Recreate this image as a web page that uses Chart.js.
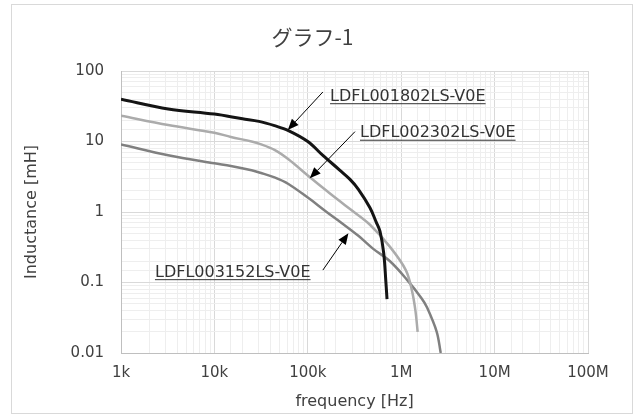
<!DOCTYPE html>
<html lang="ja">
<head>
  <meta charset="UTF-8">
  <title>グラフ-1</title>
  <script src="https://cdn.jsdelivr.net/npm/chart.js@4.4.1/dist/chart.umd.min.js"></script>
  <style>
    html, body { margin: 0; padding: 0; background: #fff; }
    .wrap { position: relative; width: 643px; height: 418px; }
    .frame {
      position: absolute; left: 11px; top: 4px;
      width: 620px; height: 408px;
      border: 1px solid #d9d9d9;
      pointer-events: none;
    }
    canvas { position: absolute; left: 0; top: 0; }
  </style>
</head>
<body>
  <div class="wrap">
    <canvas id="chart" width="643" height="418"></canvas>
    <div class="frame"></div>
  </div>

  <script>
    // chart text
    const chartTitle = 'グラフ-1';
    const xTitle = 'frequency [Hz]';
    const yTitle = 'Inductance [mH]';

    // axis ticks
    const xTickValues = [1e3, 1e4, 1e5, 1e6, 1e7, 1e8];
    const xTickLabels = ['1k', '10k', '100k', '1M', '10M', '100M'];
    const yTickValues = [0.01, 0.1, 1, 10, 100];
    const yTickLabels = ['0.01', '0.1', '1', '10', '100'];

    // series: frequency [Hz] / inductance [mH]
    const names = ['LDFL001802LS-V0E', 'LDFL002302LS-V0E', 'LDFL003152LS-V0E'];

    const freq1802 = [1e3, 3.2e3, 1e4, 2e4, 3e4, 4.4e4, 6.2e4, 1e5, 1.46e5, 2.21e5, 2.83e5, 3.48e5, 4.63e5, 5.4e5, 5.93e5, 6.5e5, 6.86e5, 7.05e5];
    const ind1802  = [39.7, 28.9, 24.5, 21, 19.3, 16.8, 14.3, 10, 6.3, 3.9, 2.9, 2.1, 1.15, 0.72, 0.53, 0.26, 0.1, 0.058];

    const freq2302 = [1e3, 3.2e3, 1e4, 1.5e4, 2.5e4, 3.1e4, 4.4e4, 6.2e4, 1e5, 1.59e5, 2.21e5, 2.83e5, 4.63e5, 7.59e5, 1.12e6, 1.3e6, 1.42e6, 1.5e6];
    const ind2302  = [23.2, 17.1, 13.3, 11.6, 10.0, 9.2, 7.6, 5.6, 3.3, 2.0, 1.42, 1.1, 0.66, 0.32, 0.15, 0.078, 0.04, 0.02];

    const freq3152 = [1e3, 3.2e3, 1e4, 1.5e4, 2.5e4, 3.1e4, 4.4e4, 6.2e4, 1e5, 1.59e5, 2.3e5, 3.48e5, 5.02e5, 7.59e5, 1.15e6, 1.65e6, 1.88e6, 2.4e6, 2.65e6];
    const ind3152  = [9.1, 6.4, 4.9, 4.5, 3.9, 3.6, 3.1, 2.5, 1.6, 1.0, 0.7, 0.46, 0.3, 0.2, 0.11, 0.06, 0.045, 0.02, 0.01];

    // callout labels and arrows (in data units)
    const labelFreq = [1.73e5, 3.62e5, 2.31e3];
    const labelInd  = [37.9, 11.5, 0.121];
    const arrowFromFreq = [1.45e5, 3.2e5, 1.45e5];
    const arrowFromInd  = [50.4, 13.8, 0.150];
    const arrowToFreq = [6.1e4, 1.05e5, 2.72e5];
    const arrowToInd  = [14.6, 3.0, 0.499];

    const textColor = '#404040';
    const fontFamily = '"DejaVu Sans", Verdana, sans-serif';

    function isMajor(v) {
      const l = Math.log10(v);
      return Math.abs(l - Math.round(l)) < 1e-6;
    }

    function tickLabel(v, values, labels) {
      for (let i = 0; i < values.length; i++) {
        if (Math.abs(v / values[i] - 1) < 1e-6) return labels[i];
      }
      return '';
    }

    function gridColor(ctx) {
      if (!ctx.tick) return '#d9d9d9';
      return isMajor(ctx.tick.value) ? '#d9d9d9' : '#eeeeee';
    }

    function points(xs, ys) {
      return xs.map((f, i) => ({ x: f, y: ys[i] }));
    }

    const overlay = {
      id: 'overlay',
      afterDatasetsDraw(chart) {
        const ctx = chart.ctx;
        const x = chart.scales.x;
        const y = chart.scales.y;
        ctx.save();

        // title
        ctx.fillStyle = textColor;
        ctx.font = '21px "Noto Sans CJK JP", sans-serif';
        ctx.textAlign = 'center';
        ctx.textBaseline = 'middle';
        ctx.fillText(chartTitle, chart.width / 2 - 9, 37);

        // callouts
        ctx.font = '16px ' + fontFamily;
        ctx.textAlign = 'left';
        ctx.textBaseline = 'alphabetic';
        names.forEach((t, i) => {
          const px = x.getPixelForValue(labelFreq[i]);
          const py = y.getPixelForValue(labelInd[i]);
          ctx.fillStyle = '#333333';
          ctx.fillText(t, px, py);
          const w = ctx.measureText(t).width;
          ctx.fillRect(px, py + 2.5, w, 1);

          const x0 = x.getPixelForValue(arrowFromFreq[i]);
          const y0 = y.getPixelForValue(arrowFromInd[i]);
          const x1 = x.getPixelForValue(arrowToFreq[i]);
          const y1 = y.getPixelForValue(arrowToInd[i]);
          const ang = Math.atan2(y1 - y0, x1 - x0);
          const hl = 11, hw = 4.5;
          const bx = x1 - hl * Math.cos(ang);
          const by = y1 - hl * Math.sin(ang);
          ctx.strokeStyle = '#000';
          ctx.fillStyle = '#000';
          ctx.lineWidth = 1;
          ctx.beginPath();
          ctx.moveTo(x0, y0);
          ctx.lineTo(bx, by);
          ctx.stroke();
          ctx.beginPath();
          ctx.moveTo(x1, y1);
          ctx.lineTo(bx + hw * Math.sin(ang), by - hw * Math.cos(ang));
          ctx.lineTo(bx - hw * Math.sin(ang), by + hw * Math.cos(ang));
          ctx.closePath();
          ctx.fill();
        });
        ctx.restore();
      }
    };

    new Chart(document.getElementById('chart'), {
      type: 'line',
      data: {
        datasets: [
          { label: names[0], data: points(freq1802, ind1802), borderColor: '#141414', borderWidth: 3 },
          { label: names[1], data: points(freq2302, ind2302), borderColor: '#ababab', borderWidth: 2.5 },
          { label: names[2], data: points(freq3152, ind3152), borderColor: '#808080', borderWidth: 2.5 }
        ]
      },
      options: {
        responsive: false,
        animation: false,
        devicePixelRatio: 1,
        layout: { padding: { left: 14, right: 55, top: 71, bottom: 3 } },
        elements: {
          point: { radius: 0 },
          line: { tension: 0.35, fill: false }
        },
        plugins: {
          legend: { display: false },
          tooltip: { enabled: false },
          title: { display: false }
        },
        scales: {
          x: {
            type: 'logarithmic',
            min: 1e3,
            max: 1e8,
            grid: { color: gridColor, drawTicks: false },
            border: { color: '#bfbfbf' },
            ticks: {
              autoSkip: false,
              maxRotation: 0,
              padding: 11,
              color: textColor,
              font: { family: fontFamily, size: 15 },
              callback: v => tickLabel(v, xTickValues, xTickLabels)
            },
            title: {
              display: true,
              text: xTitle,
              color: textColor,
              font: { family: fontFamily, size: 16 },
              padding: { top: 9, bottom: 4 }
            },
            afterFit: s => { s.height = 62; }
          },
          y: {
            type: 'logarithmic',
            min: 0.01,
            max: 100,
            grid: { color: gridColor, drawTicks: false },
            border: { color: '#bfbfbf' },
            ticks: {
              autoSkip: false,
              padding: 17,
              color: textColor,
              font: { family: fontFamily, size: 15 },
              callback: v => tickLabel(v, yTickValues, yTickLabels)
            },
            title: {
              display: true,
              text: yTitle,
              color: textColor,
              font: { family: fontFamily, size: 16 },
              padding: { top: 8, bottom: 4 }
            },
            afterFit: s => { s.width = 107; }
          }
        }
      },
      plugins: [overlay]
    });
  </script>
</body>
</html>
